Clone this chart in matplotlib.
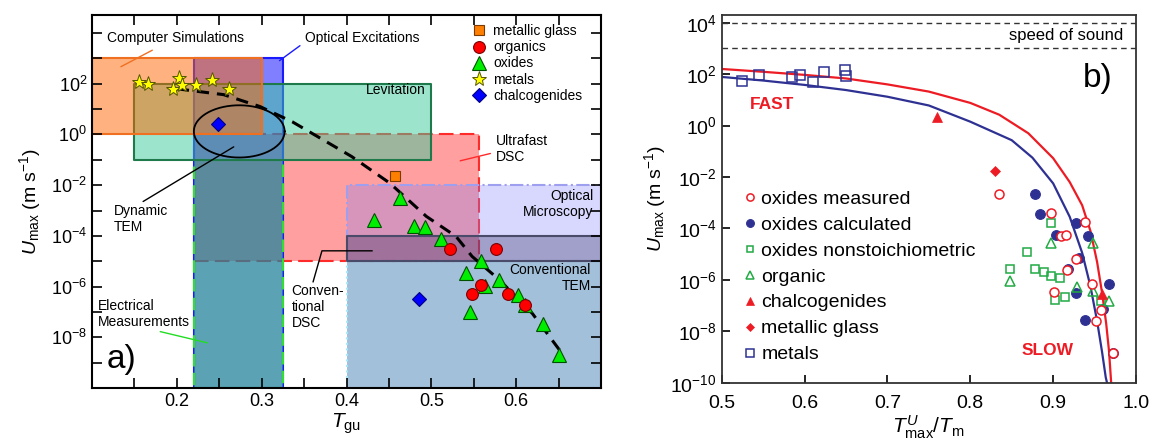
import numpy as np
import matplotlib.pyplot as plt
from matplotlib.patches import Rectangle
from matplotlib.colors import to_rgba

plt.rcParams['font.family'] = ['Liberation Sans', 'DejaVu Sans']
plt.rcParams['mathtext.fontset'] = 'custom'
plt.rcParams['mathtext.rm'] = 'Liberation Sans'
plt.rcParams['mathtext.it'] = 'Liberation Sans:italic'
plt.rcParams['mathtext.bf'] = 'Liberation Sans:bold'

# ---------------- panel a) : Umax vs reduced temperature Tgu ----------------
metglass_T = [0.457]
metglass_logU = [-1.63]
organics_T = [0.522, 0.576, 0.558, 0.548, 0.590, 0.610]
organics_logU = [-4.51, -4.51, -5.93, -6.30, -6.30, -6.72]
oxides_T = [0.432, 0.463, 0.480, 0.493, 0.511, 0.541, 0.545, 0.559, 0.563, 0.580, 0.602, 0.610, 0.631, 0.651]
oxides_logU = [-3.37, -2.51, -3.63, -3.65, -4.11, -5.47, -7.01, -5.01, -5.99, -5.73, -6.32, -6.72, -7.47, -8.69]
metals_T = [0.155, 0.166, 0.195, 0.203, 0.206, 0.222, 0.241, 0.261]
metals_logU = [2.05, 2.00, 1.81, 2.21, 1.95, 1.96, 2.16, 1.79]
chalco_T = [0.248, 0.485]
chalco_logU = [0.41, -6.48]

trend_T = [0.200, 0.255, 0.298, 0.336, 0.406, 0.451, 0.494, 0.529, 0.548, 0.580, 0.619, 0.651]
trend_logU = [1.80, 1.57, 1.10, 0.50, -0.87, -1.92, -3.23, -4.02, -4.81, -5.73, -7.06, -8.50]

# measuring techniques: Tgu range and Umax range (m/s)
tech_names = ['Ultrafast DSC', 'Optical Excitations', 'Electrical Measurements', 'Levitation',
              'Computer Simulations', 'Optical Microscopy', 'Conventional TEM', 'Conventional DSC']
tech_T0 = [0.220, 0.220, 0.220, 0.150, 0.100, 0.400, 0.400, 0.400]
tech_T1 = [0.556, 0.325, 0.325, 0.500, 0.300, 0.720, 0.720, 0.720]
tech_U0 = [1e-5, 1e-10, 1e-10, 1e-1, 1e0, 1e-5, 1e-10, 1e-5]
tech_U1 = [1e0, 1e3, 1e-1, 1e2, 1e3, 1e-2, 1e-5, 1e-4]
tech_fill = ['#ff4040', '#0000ff', '#36c66b', '#3ccb9a', '#ff6600', '#8080ff', '#4682b4', '#202050']
tech_alpha = [0.5, 0.5, 0.5, 0.5, 0.5, 0.3, 0.5, 0.3]
tech_edge = ['#ff2a2a', '#1a1aff', '#33dd33', '#1e7a4a', '#f07022', '#9f9fef', '#a8e8f8', '#4a4a6a']
tech_ls = [(0, (7, 3)), '-', (0, (6, 3)), '-', '-', '-.', ':', '-']

# ---------------- panel b) : Umax vs T(Umax)/Tm ----------------
oxm_x = [0.8345, 0.898, 0.938, 0.910, 0.915, 0.928, 0.917, 0.9465, 0.901, 0.9575, 0.9515, 0.972]
oxm_logU = [-2.68, -3.40, -3.75, -4.31, -4.25, -5.19, -5.62, -6.15, -6.47, -7.18, -7.61, -8.85]
oxc_x = [0.8777, 0.8837, 0.927, 0.9425, 0.904, 0.931, 0.918, 0.9675, 0.928, 0.960, 0.938, 0.972]
oxc_logU = [-2.68, -3.43, -3.78, -4.30, -4.27, -5.16, -5.58, -6.15, -6.50, -7.15, -7.58, -8.85]
oxn_x = [0.8978, 0.868, 0.8474, 0.8777, 0.8885, 0.897, 0.908, 0.902, 0.914, 0.9575]
oxn_logU = [-3.79, -4.90, -5.58, -5.58, -5.71, -5.87, -5.94, -6.78, -6.66, -6.82]
org_x = [0.8973, 0.8478, 0.9486, 0.9486, 0.968, 0.9285]
org_logU = [-4.58, -6.04, -4.58, -6.43, -6.82, -6.28]
chb_x = [0.760, 0.9595]
chb_logU = [0.33, -6.56]
mg_x = [0.8296]
mg_logU = [-1.75]
met_x = [0.524, 0.545, 0.585, 0.595, 0.610, 0.624, 0.649, 0.650]
met_logU = [1.74, 1.97, 1.87, 1.97, 1.70, 2.10, 2.17, 1.91]

fit_red_x = [0.500, 0.550, 0.600, 0.650, 0.700, 0.750, 0.800, 0.835, 0.870, 0.900, 0.920, 0.935, 0.945,
             0.953, 0.959, 0.964, 0.9675, 0.970]
fit_red_logU = [2.20, 2.09, 1.97, 1.83, 1.60, 1.32, 0.88, 0.42, -0.30, -1.27, -2.20, -3.10, -4.10,
                -5.30, -6.50, -7.70, -8.80, -10.0]
fit_blue_x = [0.500, 0.550, 0.600, 0.650, 0.700, 0.750, 0.800, 0.850, 0.875, 0.900, 0.920, 0.935, 0.945,
              0.953, 0.959, 0.9635, 0.965]
fit_blue_logU = [1.89, 1.75, 1.58, 1.38, 1.12, 0.78, 0.15, -0.57, -1.25, -2.25, -3.55, -4.95, -6.25,
                 -7.60, -8.80, -9.80, -10.0]

sound_speed = [1e4, 1e3]

RED = '#ed1c24'
NAVY = '#2e3192'
GREEN = '#22aa44'

fig = plt.figure(figsize=(11.49, 4.48), dpi=100)
ax = fig.add_axes([0.0801, 0.1339, 0.4430, 0.8326])
bx = fig.add_axes([0.6281, 0.1458, 0.3606, 0.8208])

# ---- panel a ----
for i in range(len(tech_names)):
    ax.add_patch(Rectangle((tech_T0[i], tech_U0[i]), tech_T1[i] - tech_T0[i], tech_U1[i] - tech_U0[i],
                           facecolor=to_rgba(tech_fill[i], tech_alpha[i]), edgecolor=tech_edge[i],
                           linestyle=tech_ls[i], linewidth=1.5, joinstyle='round', zorder=1))

# dynamic TEM window (ellipse in T / log U)
t = np.linspace(0, 2 * np.pi, 200)
ax.plot(0.2735 + 0.0535 * np.cos(t), 10 ** (0.12 + 1.03 * np.sin(t)), color='k', lw=1.3, zorder=3)

ax.plot(trend_T, 10 ** np.array(trend_logU), color='k', ls=(0, (4, 2.6)), lw=2.2, zorder=4)

ax.plot(metglass_T, 10 ** np.array(metglass_logU), ls='none', marker='s', ms=7, mfc='#ff7f00', mec='#7a3a00',
        mew=0.8, label='metallic glass', zorder=5)
ax.plot(organics_T, 10 ** np.array(organics_logU), ls='none', marker='o', ms=8.5, mfc='#ff0000', mec='#7a0000',
        mew=0.8, label='organics', zorder=6)
ax.plot(oxides_T, 10 ** np.array(oxides_logU), ls='none', marker='^', ms=9.5, mfc='#00ee00', mec='#005000',
        mew=0.8, label='oxides', zorder=5)
ax.plot(metals_T, 10 ** np.array(metals_logU), ls='none', marker='*', ms=11, mfc='#ffff00', mec='#555500',
        mew=0.7, label='metals', zorder=5)
ax.plot(chalco_T, 10 ** np.array(chalco_logU), ls='none', marker='D', ms=7, mfc='#0000ff', mec='#000080',
        mew=0.8, label='chalcogenides', zorder=5)

fs = 10
ax.annotate('Computer Simulations', xy=(0.134, 10 ** 2.67), xytext=(0.118, 10 ** 3.81), fontsize=fs,
            va='center', ha='left', arrowprops=dict(arrowstyle='-', color='#f07022', lw=1, shrinkA=4, shrinkB=0))
ax.annotate('Optical Excitations', xy=(0.321, 10 ** 2.91), xytext=(0.351, 10 ** 3.81), fontsize=fs,
            va='center', ha='left', arrowprops=dict(arrowstyle='-', color='#1a1aff', lw=1, shrinkA=2, shrinkB=0,
                                                   relpos=(0, 0.2)))
ax.text(0.493, 10 ** 1.76, 'Levitation', fontsize=fs, ha='right', va='center', zorder=7)
ax.annotate('Ultrafast\nDSC', xy=(0.534, 10 ** -1.04), xytext=(0.576, 10 ** -0.58), fontsize=fs,
            va='center', ha='left', arrowprops=dict(arrowstyle='-', color='#ff2a2a', lw=1, shrinkA=2, shrinkB=0,
                                                   relpos=(0, 0.4)))
ax.text(0.691, 10 ** -2.75, 'Optical\nMicroscopy', fontsize=fs, ha='right', va='center', multialignment='right',
        zorder=7)
ax.text(0.688, 10 ** -5.65, 'Conventional\nTEM', fontsize=fs, ha='right', va='center', multialignment='right',
        zorder=7)
ax.text(0.335, 10 ** -6.8, 'Conven-\ntional\nDSC', fontsize=fs, ha='left', va='center', zorder=7)
ax.plot([0.3606, 0.371, 0.430], [10 ** -5.81, 10 ** -4.59, 10 ** -4.59], color='k', lw=1, zorder=7)
ax.annotate('Electrical\nMeasurements', xy=(0.236, 10 ** -8.22), xytext=(0.107, 10 ** -7.07), fontsize=fs,
            va='center', ha='left', arrowprops=dict(arrowstyle='-', color='#22dd22', lw=1, shrinkA=0, shrinkB=0,
                                                   relpos=(0.55, 0)))
ax.annotate('Dynamic\nTEM', xy=(0.267, 10 ** -0.49), xytext=(0.126, 10 ** -3.35), fontsize=fs,
            va='center', ha='left', arrowprops=dict(arrowstyle='-', color='k', lw=1, shrinkA=0, shrinkB=0,
                                                   relpos=(0.45, 1.0)))
ax.text(0.117, 10 ** -8.89, 'a)', fontsize=24, ha='left', va='center', zorder=7)

ax.set_yscale('log')
ax.set_xlim(0.1, 0.7)
ax.set_ylim(1e-10, 10 ** 4.71)
xt = np.round(np.arange(0.15, 0.66, 0.05), 2)
ax.set_xticks(xt)
ax.set_xticklabels([('%.1f' % v) if abs(v * 10 - round(v * 10)) < 1e-6 else '' for v in xt])
yk = np.arange(-10, 5)
ax.set_yticks(10.0 ** yk)
ax.set_yticklabels([('$10^{%d}$' % k) if (k % 2 == 0 and -8 <= k <= 2) else '' for k in yk])
ax.minorticks_off()
ax.tick_params(which='both', direction='in', top=True, right=True, length=7, width=1.2, labelsize=13)
for s in ax.spines.values():
    s.set_linewidth(1.5)
    s.set_zorder(10)
ax.set_xlabel(r'$T_{\mathrm{gu}}$', fontsize=15, labelpad=1)
ax.set_ylabel(r'$U_{\mathrm{max}}$ (m s$^{-1}$)', fontsize=14, labelpad=6)
ax.legend(loc='upper left', bbox_to_anchor=(0.747, 0.975), frameon=False, fontsize=10, handlelength=1.0,
          handletextpad=0.5, labelspacing=0.15, borderpad=0, borderaxespad=0, numpoints=1)

# ---- panel b ----
for v in sound_speed:
    bx.axhline(v, color='#333333', ls=(0, (4, 3)), lw=1.0)
bx.text(0.984, 10 ** 3.5, 'speed of sound', fontsize=12, ha='right', va='center')

bx.plot(fit_red_x, 10 ** np.array(fit_red_logU), color=RED, lw=1.6, zorder=2)
bx.plot(fit_blue_x, 10 ** np.array(fit_blue_logU), color=NAVY, lw=1.6, zorder=2)

bx.plot(oxc_x, 10 ** np.array(oxc_logU), ls='none', marker='o', ms=7, mfc=NAVY, mec=NAVY, mew=0.8,
        label='oxides calculated', zorder=3)
bx.plot(oxm_x, 10 ** np.array(oxm_logU), ls='none', marker='o', ms=6.5, mfc='white', mec=RED, mew=1.1,
        label='oxides measured', zorder=4)
bx.plot(oxn_x, 10 ** np.array(oxn_logU), ls='none', marker='s', ms=6, mfc='none', mec=GREEN, mew=1.1,
        label='oxides nonstoichiometric', zorder=3)
bx.plot(org_x, 10 ** np.array(org_logU), ls='none', marker='^', ms=6.5, mfc='none', mec=GREEN, mew=1.1,
        label='organic', zorder=3)
bx.plot(chb_x, 10 ** np.array(chb_logU), ls='none', marker='^', ms=7, mfc=RED, mec=RED, mew=0.5,
        label='chalcogenides', zorder=4)
bx.plot(mg_x, 10 ** np.array(mg_logU), ls='none', marker='D', ms=5, mfc=RED, mec=RED, mew=0.5,
        label='metallic glass', zorder=4)
bx.plot(met_x, 10 ** np.array(met_logU), ls='none', marker='s', ms=7, mfc='none', mec=NAVY, mew=1.1,
        label='metals', zorder=4)

bx.text(0.534, 10 ** 0.80, 'FAST', color=RED, fontsize=12.5, fontweight='bold', ha='left', va='center')
bx.text(0.862, 10 ** -8.73, 'SLOW', color=RED, fontsize=12.5, fontweight='bold', ha='left', va='center')
bx.text(0.936, 10 ** 1.82, 'b)', fontsize=24, ha='left', va='center')

bx.set_yscale('log')
bx.set_xlim(0.5, 1.0)
bx.set_ylim(1e-10, 10 ** 4.3)
bx.set_xticks([0.5, 0.6, 0.7, 0.8, 0.9, 1.0])
bx.set_xticklabels(['0.5', '0.6', '0.7', '0.8', '0.9', '1.0'])
yk2 = np.arange(-10, 5, 2)
bx.set_yticks(10.0 ** yk2)
bx.set_yticklabels(['$10^{%d}$' % k for k in yk2])
bx.minorticks_off()
bx.tick_params(direction='in', length=6, width=1.2, labelsize=14)
bx.tick_params(axis='x', pad=9)
for s in bx.spines.values():
    s.set_linewidth(1.3)
    s.set_color('#333333')
bx.set_xlabel(r'$T^{U}_{\mathrm{max}}/T_{\mathrm{m}}$', fontsize=15, labelpad=1)
bx.set_ylabel(r'$U_{\mathrm{max}}$ (m s$^{-1}$)', fontsize=14, labelpad=2)

h, l = bx.get_legend_handles_labels()
order = ['oxides measured', 'oxides calculated', 'oxides nonstoichiometric', 'organic', 'chalcogenides',
         'metallic glass', 'metals']
hs = [h[l.index(o)] for o in order]
bx.legend(hs, order, loc='upper left', bbox_to_anchor=(0.049, 0.524), frameon=False, fontsize=14,
          handlelength=0.8, handletextpad=0.2, labelspacing=0.43, borderpad=0, borderaxespad=0,
          numpoints=1, markerscale=0.8)

fig.savefig('out.png', dpi=100)
